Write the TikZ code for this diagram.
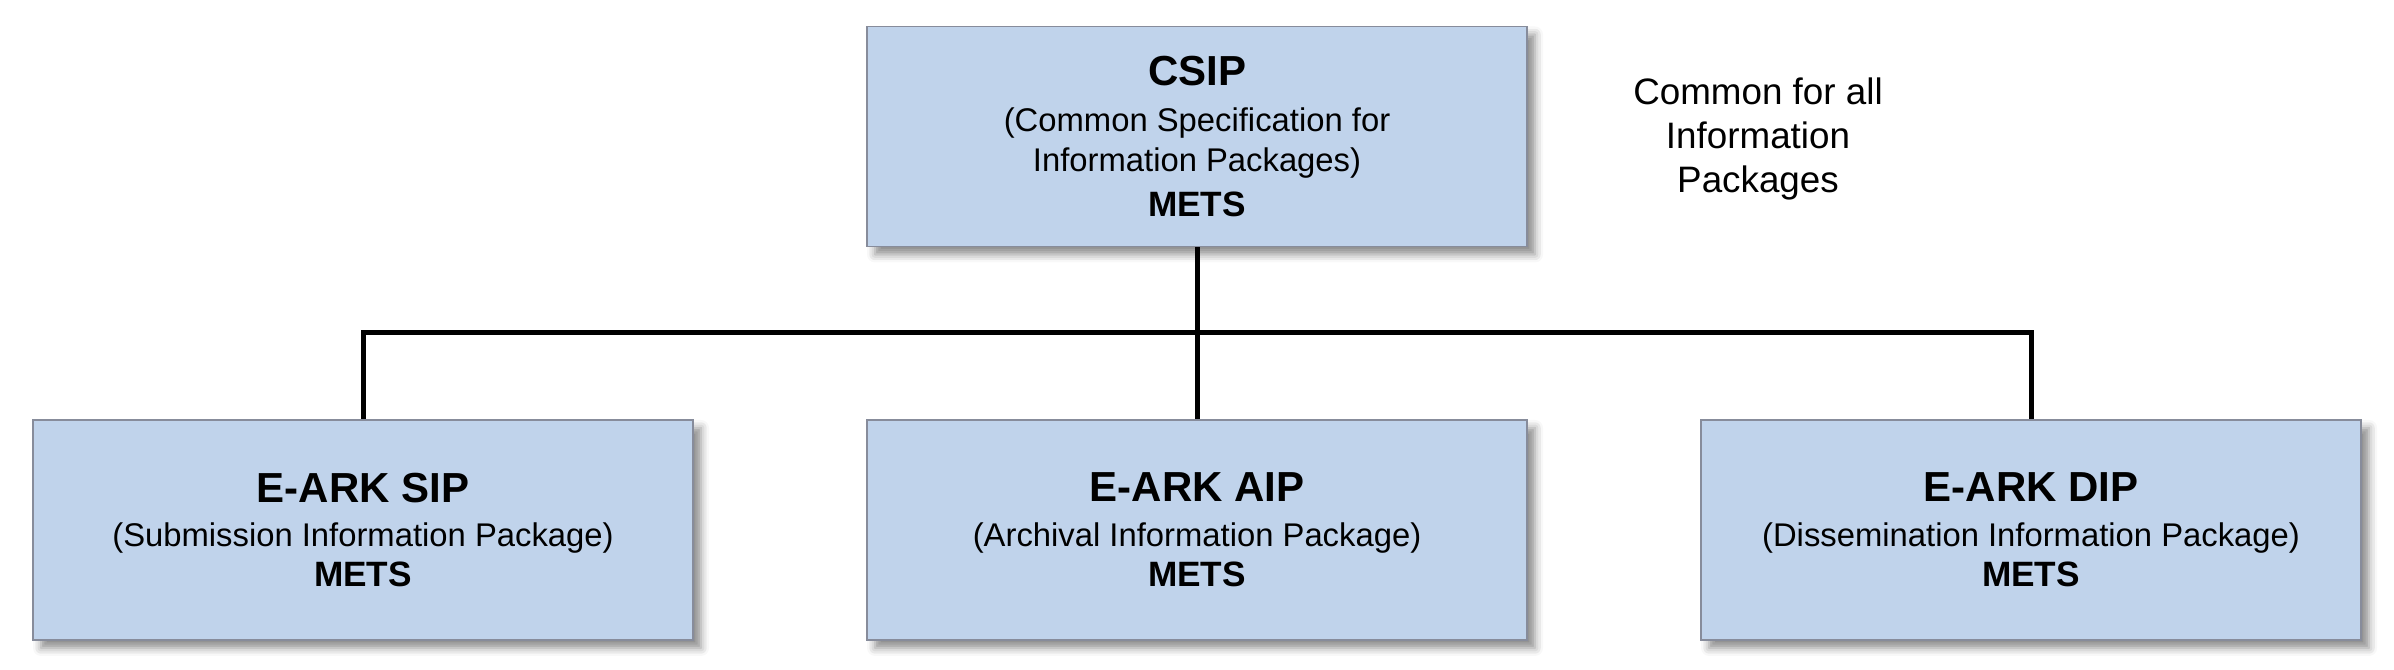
\documentclass[tikz,border=0pt]{standalone}
\usepackage{fontspec}
\setmainfont{Liberation Sans}
\usepackage{tikz}
\usetikzlibrary{shadows.blur}
\definecolor{paketblau}{RGB}{192,211,235}
\definecolor{paketrand}{RGB}{135,140,155}
\tikzset{
  paket/.style={draw=paketrand, line width=0.4pt, fill=paketblau,
    minimum width=165pt, minimum height=55pt, inner sep=0pt, align=center,
    font=\fontsize{8.2}{10}\selectfont,
    blur shadow={shadow xshift=2pt, shadow yshift=-2pt, shadow blur radius=2pt, shadow opacity=45}},
  verbindung/.style={line width=1.25pt, line join=miter}
}
\newcommand{\titel}[1]{{\fontsize{10.5}{12}\bfseries #1}}
\newcommand{\mets}{{\fontsize{8.8}{10}\bfseries METS}}

\begin{document}
\begin{tikzpicture}[x=25pt,y=25pt]

\useasboundingbox (0,0) rectangle (23.94,6.70);						% Rahmen

\node[paket] (csip) at (11.97,5.335) {\titel{CSIP}\\[1.6pt] (Common Specification for\\ Information Packages)\\[1.2pt] \mets};	% CSIP Kasten
\node[align=center, font=\fontsize{9.2}{11}\selectfont] (hinweis) at (17.58,5.31) {Common for all\\ Information\\ Packages};		% Hinweis rechts

\node[paket] (sip) at (3.63,1.40) {\titel{E-ARK SIP}\\[1.2pt] (Submission Information Package)\\ \mets};		% SIP Kasten
\node[paket] (aip) at (11.97,1.40) {\titel{E-ARK AIP}\\[1.2pt] (Archival Information Package)\\ \mets};		% AIP Kasten
\node[paket] (dip) at (20.31,1.40) {\titel{E-ARK DIP}\\[1.2pt] (Dissemination Information Package)\\ \mets};	% DIP Kasten

\coordinate (bus) at (11.97,3.37);										% Verteilerpunkt
\draw[verbindung] (csip.south) -- (aip.north);							% CSIP nach AIP
\draw[verbindung] (sip.north) |- (bus) -| (dip.north);					% Querverbindung SIP bis DIP

\end{tikzpicture}
\end{document}
